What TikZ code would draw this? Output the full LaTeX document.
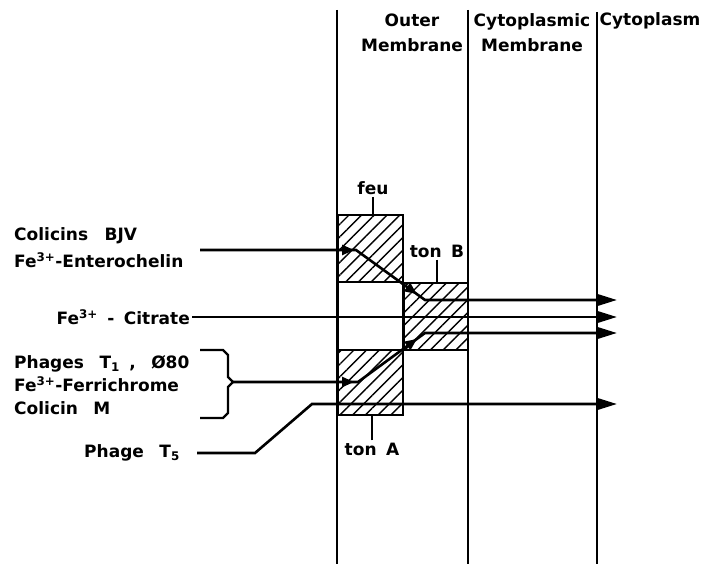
\documentclass[tikz,border=0pt]{standalone}
\usepackage{fontspec}
\setmainfont{DejaVu Sans}[WordSpace=1.6]
\usetikzlibrary{positioning,arrows.meta,patterns.meta,decorations.markings}

\begin{document}
\begin{tikzpicture}[
  x=1pt, y=-1pt,
  font=\bfseries\fontsize{17}{25}\selectfont,
  memline/.style={line width=1.6pt},
  hatchbox/.style={rectangle, draw, line width=2pt, inner sep=0pt,
              pattern={Lines[angle=45,distance=9pt,line width=1.4pt]}},
  gapbox/.style={rectangle, draw, line width=2pt, inner sep=0pt},
  arr/.style={line width=2.6pt, -{Triangle[length=19pt,width=11pt]}},
  midarrows/.style 2 args={postaction={decorate},
              decoration={markings,
                mark=at position #1 with {\arrow{Triangle[length=12pt,width=10pt]}},
                mark=at position #2 with {\arrow{Triangle[length=12pt,width=10pt]}}}},
  tick/.style={line width=1.6pt},
  lbl/.style={inner sep=2pt},
]
\useasboundingbox (0,0) rectangle (708,564);

% Membranes
\coordinate (om0) at (337,10);
\coordinate (om1) at (337,564);
\coordinate (cm0) at (468,10);
\coordinate (cm1) at (468,564);
\coordinate (cp0) at (597,12);
\coordinate (cp1) at (597,564);
\draw[memline] (om0) -- (om1);
\draw[memline] (cm0) -- (cm1);
\draw[memline] (cp0) -- (cp1);

% Headings
\node[lbl, align=center] (outer) at (412,33) {Outer\\Membrane};
\node[lbl, align=center] (cytmem) at (532,33) {Cytoplasmic\\Membrane};
\node[lbl] (cytopl) at (650,21) {Cytoplasm};

% Receptors
\node[hatchbox, minimum width=65, minimum height=67] (feu) at (370.5,248.5) {};
\node[gapbox, minimum width=65, minimum height=68] (gap) at (370.5,316) {};
\node[hatchbox, minimum width=65, minimum height=65] (tonA) at (370.5,382.5) {};
\node[hatchbox, minimum width=64, minimum height=67] (tonB) at (435.5,316.5) {};

% Receptor labels
\node[lbl] (feulbl) at (373,188) {feu};
\node[lbl] (tonBlbl) at (437,251) {ton B};
\node[lbl] (tonAlbl) at (372,449) {ton A};
\draw[tick] (feulbl) -- (feulbl |- feu.north);
\draw[tick] (tonBlbl) -- (tonBlbl |- tonB.north);
\draw[tick] (tonAlbl) -- (tonAlbl |- tonA.south);

% Substrates
\node[lbl, anchor=west, align=left] (colicins) at (12,248)
  {Colicins\hspace{7pt} BJV\\[2pt]Fe\textsuperscript{3+}-Enterochelin};
\node[lbl, anchor=east] (citrate) at (192,317) {Fe\textsuperscript{3+} - Citrate};
\node[lbl, anchor=west, align=left] (phages) at (12,385)
  {Phages\hspace{6pt} T\textsubscript{1} ,\hspace{6pt} Ø80\\[-2pt]Fe\textsuperscript{3+}-Ferrichrome\\[-2pt]Colicin\hspace{6pt} M};
\node[lbl, anchor=east] (phaget5) at (182,453) {Phage\hspace{6pt} T\textsubscript{5}};

% Bracket
\draw[line width=2.2pt] (200,350) -- (223,350) -- (228,355) -- (228,377) -- (233,382)
  -- (228,387) -- (228,413) -- (223,418) -- (200,418);

% Paths
\coordinate (ent0) at (200,250);
\coordinate (ent1) at (356,250);
\coordinate (ent2) at (425,300);
\coordinate (ent3) at (617,300);
\coordinate (brk) at (233,382);
\coordinate (fer1) at (358,382);
\coordinate (fer2) at (425,333);
\coordinate (fer3) at (617,333);
\coordinate (t50) at (197,453);
\coordinate (t51) at (255,453);
\coordinate (t52) at (312,404);
\coordinate (t53) at (617,404);

\draw[arr, midarrows={154pt}{231pt}] (ent0) -- (ent1) -- (ent2) -- (ent3);
\draw[arr] (citrate) -- (citrate -| ent3);
\draw[arr, midarrows={121pt}{198pt}] (brk) -- (fer1) -- (fer2) -- (fer3);
\draw[arr] (t50) -- (t51) -- (t52) -- (t53);

\end{tikzpicture}
\end{document}
